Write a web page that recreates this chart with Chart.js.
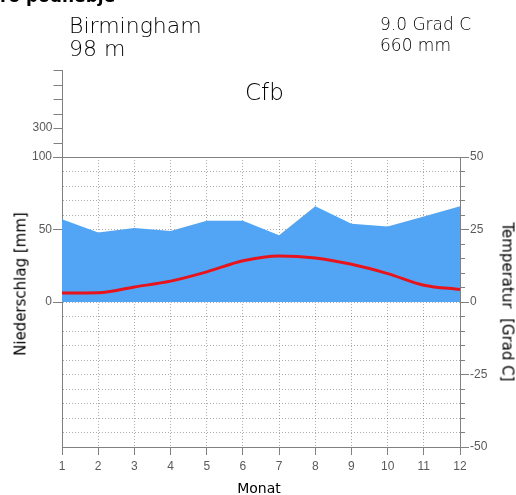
<!DOCTYPE html>
<html>
<head>
<meta charset="utf-8">
<script src="https://cdn.jsdelivr.net/npm/chart.js@4/dist/chart.umd.min.js"></script>
<style>
  html, body { margin: 0; padding: 0; background: #fff; }
  #wrap { position: relative; width: 516px; height: 495px; overflow: hidden; font-family: "DejaVu Sans", sans-serif; color: #000; }
  #wrap canvas { position: absolute; left: 0; top: 0; }
  .t { position: absolute; white-space: nowrap; line-height: 1; }
  .thin { font-weight: 200; }
</style>
</head>
<body>
<div id="wrap">
  <canvas id="c" width="516" height="495"></canvas>
  <div class="t" id="cut" style="left:0px; top:-12px; font-size:17px; font-weight:bold;">ro podnebje</div>
  <div class="t thin" id="station" style="left:69px; top:15px; font-size:22px;"></div>
  <div class="t thin" id="elev" style="left:69px; top:38px; font-size:22px;"></div>
  <div class="t thin" id="tmean" style="left:380px; top:16px; font-size:17px;"></div>
  <div class="t thin" id="psum" style="left:380px; top:37px; font-size:17px;"></div>
  <div class="t thin" id="klima" style="left:245px; top:81px; font-size:23px;"></div>
  <div class="t" id="ytitle" style="left:21px; top:284px; font-size:15px; transform:translate(-50%,-50%) rotate(-90deg);"></div>
  <div class="t" id="y2title" style="left:507px; top:302px; font-size:15px; transform:translate(-50%,-50%) rotate(90deg);"></div>
  <div class="t" id="xtitle" style="left:259px; top:481px; font-size:14px; transform:translateX(-50%);"></div>
</div>
<script>
// Birmingham climate normals
const station = 'Birmingham';
const elevation = '98 m';
const meanTemp = '9.0 Grad C';
const totalPrecip = '660 mm';
const climateClass = 'Cfb';

const months = ['1', '2', '3', '4', '5', '6', '7', '8', '9', '10', '11', '12'];
const precipitation = [57, 48, 51, 49, 56, 56, 46, 66, 54, 52, 59, 66];   // mm
const temperature = [3.1, 3.2, 5.2, 7.2, 10.4, 14.2, 15.9, 15.2, 13.0, 9.8, 5.8, 4.3]; // Grad C

const precipLabels = [0, 50, 100];          // labelled ticks, lower precipitation axis
const upperTicks = [200, 300, 400, 500, 600, 700]; // compressed part above 100 mm
const upperLabels = [300];
const tempLabels = [-50, -25, 0, 25, 50];

document.getElementById('station').textContent = station;
document.getElementById('elev').textContent = elevation;
document.getElementById('tmean').textContent = meanTemp;
document.getElementById('psum').textContent = totalPrecip;
document.getElementById('klima').textContent = climateClass;
document.getElementById('ytitle').textContent = 'Niederschlag [mm]';
document.getElementById('y2title').textContent = 'Temperatur\u00a0 [Grad C]';
document.getElementById('xtitle').textContent = 'Monat';

const AXIS = '#808080';
const DOT = 'rgba(0,0,0,0.32)';
const LABEL = '#5a5a5a';
const tickFont = { family: 'Liberation Sans, Arial, sans-serif', size: 12 };

// extension of the precipitation axis above 100 mm (10x compressed)
const upperAxis = {
  id: 'upperAxis',
  afterDraw(chart) {
    const y = chart.scales.y;
    const ctx = chart.ctx;
    const x = Math.round(y.right) + 0.5;
    const top = y.getPixelForValue(100);
    const step = y.getPixelForValue(0) - y.getPixelForValue(10);
    ctx.save();
    ctx.strokeStyle = AXIS;
    ctx.lineWidth = 1;
    ctx.beginPath();
    ctx.moveTo(x, top);
    ctx.lineTo(x, top - upperTicks.length * step);
    upperTicks.forEach((v, i) => {
      const py = Math.round(top - (i + 1) * step) + 0.5;
      ctx.moveTo(x, py);
      ctx.lineTo(x - 9, py);
    });
    ctx.stroke();
    ctx.fillStyle = LABEL;
    ctx.font = `${tickFont.size}px ${tickFont.family}`;
    ctx.textAlign = 'right';
    ctx.textBaseline = 'middle';
    upperTicks.forEach((v, i) => {
      if (upperLabels.includes(v)) {
        ctx.fillText(String(v), x - 10, top - (i + 1) * step);
      }
    });
    ctx.restore();
  }
};

new Chart(document.getElementById('c'), {
  type: 'line',
  data: {
    labels: months,
    datasets: [
      {
        label: 'Temperatur',
        data: temperature,
        yAxisID: 'y2',
        borderColor: '#e8141c',
        borderWidth: 3,
        pointRadius: 0,
        fill: false,
        cubicInterpolationMode: 'monotone',
        order: 0
      },
      {
        label: 'Niederschlag',
        data: precipitation,
        yAxisID: 'y',
        borderWidth: 0,
        borderColor: 'rgba(0,0,0,0)',
        backgroundColor: '#52a5f5',
        pointRadius: 0,
        tension: 0,
        fill: 'origin',
        order: 1
      }
    ]
  },
  options: {
    responsive: false,
    animation: false,
    devicePixelRatio: 1,
    layout: { padding: { top: 157, left: 0, right: 0, bottom: 0 } },
    plugins: { legend: { display: false }, tooltip: { enabled: false } },
    scales: {
      x: {
        type: 'category',
        offset: false,
        z: 1,
        afterFit: s => { s.height = 48; },
        grid: {
          color: c => (c.index === 0 || c.index === months.length - 1) ? 'rgba(0,0,0,0)' : DOT,
          lineWidth: 1,
          tickColor: AXIS,
          tickLength: 8,
          tickBorderDash: []
        },
        border: { display: true, color: AXIS, width: 1, dash: [1, 2] },
        ticks: { color: LABEL, font: tickFont, padding: 4, maxRotation: 0, autoSkip: false }
      },
      y: {
        type: 'linear',
        position: 'left',
        min: -100,
        max: 100,
        z: 1,
        afterFit: s => { s.width = 62; },
        grid: {
          color: c => (c.tick && Math.abs(c.tick.value) === 100) ? AXIS : DOT,
          lineWidth: 1,
          tickColor: c => (c.tick && precipLabels.includes(c.tick.value)) ? AXIS : 'rgba(0,0,0,0)',
          tickLength: 9,
          tickBorderDash: []
        },
        border: {
          display: true, color: AXIS, width: 1,
          dash: c => (c.tick && Math.abs(c.tick.value) === 100) ? [] : [1, 2]
        },
        ticks: {
          stepSize: 10,
          maxTicksLimit: 100,
          autoSkip: false,
          color: LABEL,
          font: tickFont,
          padding: 1,
          callback: v => precipLabels.includes(v) ? String(v) : ''
        }
      },
      y2: {
        type: 'linear',
        position: 'right',
        weight: 0,
        min: -50,
        max: 50,
        afterFit: s => { s.width = 0; },
        grid: { drawOnChartArea: false, tickColor: AXIS, tickLength: 5 },
        border: { display: true, color: AXIS, width: 1 },
        ticks: { stepSize: 5, maxTicksLimit: 100, autoSkip: false, display: false }
      },
      y3: {
        type: 'linear',
        position: 'right',
        weight: 1,
        min: -50,
        max: 50,
        afterFit: s => { s.width = 56; },
        grid: { drawOnChartArea: false, tickColor: AXIS, tickLength: 9 },
        border: { display: false },
        ticks: {
          stepSize: 25,
          color: LABEL,
          font: tickFont,
          padding: 1,
          callback: v => tempLabels.includes(v) ? String(v) : ''
        }
      }
    }
  },
  plugins: [upperAxis]
});
</script>
</body>
</html>
